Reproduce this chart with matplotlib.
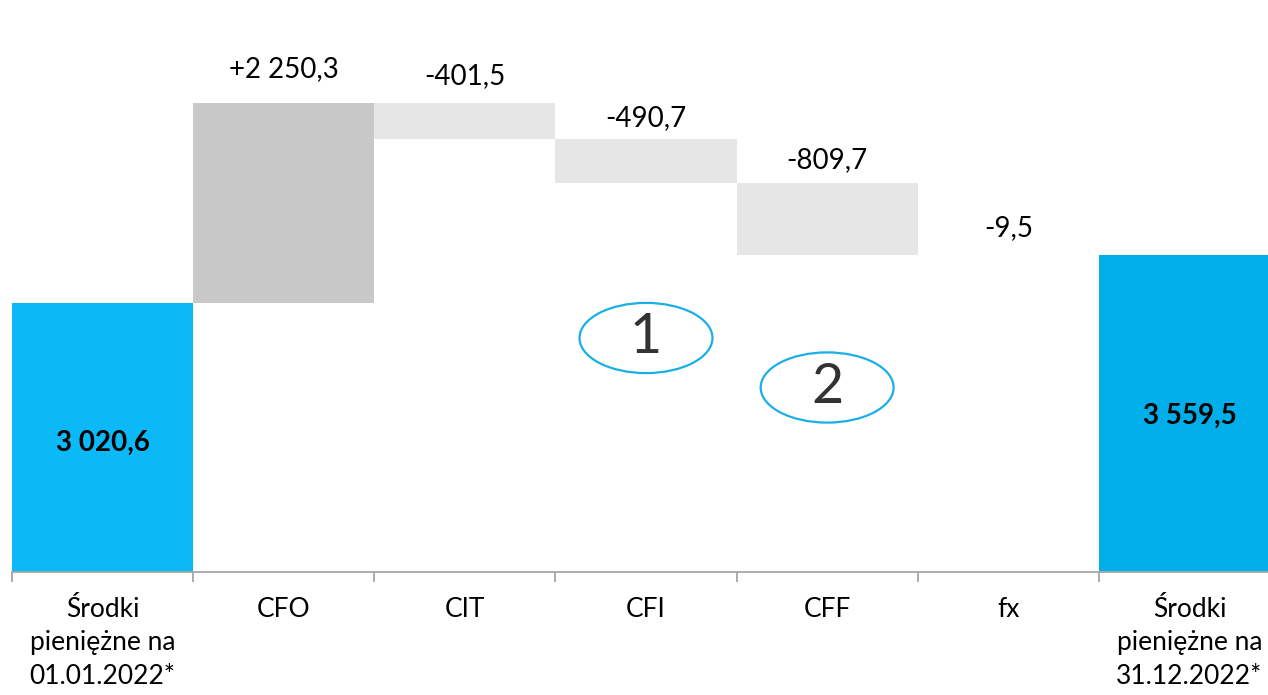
import numpy as np
import matplotlib.pyplot as plt
from matplotlib.patches import Ellipse

plt.rcParams['font.family'] = ['Lato', 'DejaVu Sans']

# data
categories = ['Środki\npieniężne na\n01.01.2022*', 'CFO', 'CIT', 'CFI', 'CFF', 'fx',
              'Środki\npieniężne na\n31.12.2022*']
start_value = 3020.6
changes = [2250.3, -401.5, -490.7, -809.7, -9.5]
end_value = 3559.5

blue_start = '#0BB9F7'
blue_end = '#00AEE9'
change_colors = ['#C8C8C8', '#E6E6E6', '#E6E6E6', '#E6E6E6', '#F0F0F0']
# label distance above the bar top, in points
label_offsets = [25, 20, 15, 16, 19]


def fmt(v, sign=False):
    s = f'{abs(v):,.1f}'.replace(',', ' ').replace('.', ',')
    if v < 0:
        s = '-' + s
    elif sign:
        s = '+' + s
    return s


fig = plt.figure(figsize=(12.68, 6.95), dpi=100)
ax = fig.add_axes([12 / 1268, 1 - 571.7 / 695, 1.0, 571.7 / 695])

x = np.arange(len(categories))

# start bar
ax.bar(x[0], start_value, width=1.0, color=blue_start, linewidth=0)
ax.text(x[0], start_value / 2 - 60, fmt(start_value), ha='center', va='center',
        fontsize=20, fontweight='bold', color='black')

# floating bars
level = start_value
for i, (ch, col) in enumerate(zip(changes, change_colors)):
    lo = min(level, level + ch)
    hi = max(level, level + ch)
    ax.bar(x[i + 1], hi - lo, bottom=lo, width=1.0, color=col, linewidth=0)
    ax.annotate(fmt(ch, sign=True), (x[i + 1], hi), xytext=(0, label_offsets[i]),
                textcoords='offset points', ha='center', va='center',
                fontsize=20, color='black')
    level += ch

# end bar
ax.bar(x[-1], end_value, width=1.0, color=blue_end, linewidth=0)
ax.text(x[-1], end_value / 2 - 30, fmt(end_value), ha='center', va='center',
        fontsize=20, fontweight='bold', color='black')

# numbered ellipses
for num, cx, cy in [('1', 3.0, 2630), ('2', 4.0, 2073)]:
    ax.add_patch(Ellipse((cx, cy), 0.734, 790, fill=False,
                         edgecolor='#1AAFE6', linewidth=1.6))
    ax.text(cx, cy, num, ha='center', va='center', fontsize=40,
            fontweight='normal', color='#333333')

ax.set_xlim(-0.5, 6.5)
ax.set_ylim(0, 571.7 / 0.08886)

for s in ['top', 'right', 'left']:
    ax.spines[s].set_visible(False)
ax.spines['bottom'].set_color('#A6A6A6')
ax.spines['bottom'].set_linewidth(1.3)
ax.set_yticks([])

ax.set_xticks(np.arange(-0.5, 7, 1.0))
ax.set_xticklabels([])
ax.tick_params(axis='x', which='major', direction='out', length=7,
               width=1.3, color='#A6A6A6')
ax.set_xticks(x, minor=True)
ax.set_xticklabels(categories, minor=True, fontsize=19, linespacing=1.42)
ax.tick_params(axis='x', which='minor', length=0, pad=18)

fig.savefig('out.png', dpi=100)
